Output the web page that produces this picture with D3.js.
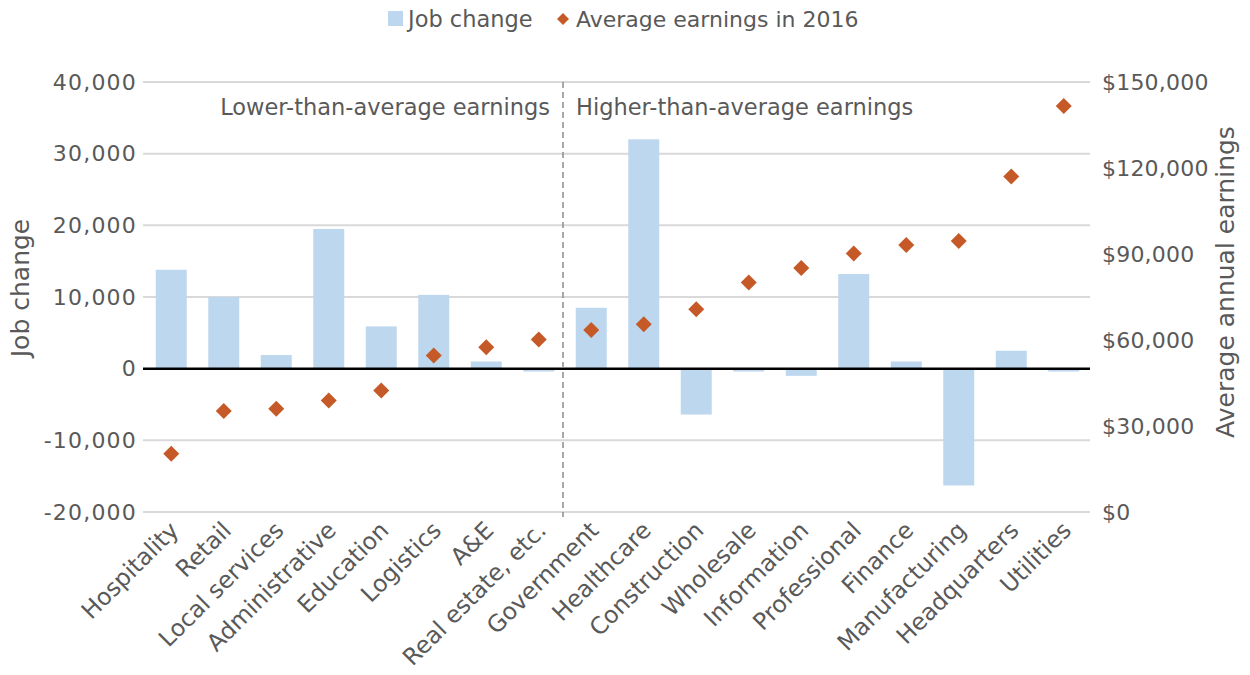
<!DOCTYPE html>
<html>
<head>
<meta charset="utf-8">
<script src="https://cdn.jsdelivr.net/npm/d3@7"></script>
<style>
  html, body { margin: 0; padding: 0; background: #fff; }
  svg { display: block; }
  text { font-family: "DejaVu Sans", sans-serif; fill: #595959; }
</style>
</head>
<body>
<svg id="chart" width="1250" height="675"></svg>
<script>
const categories = ["Hospitality","Retail","Local services","Administrative","Education","Logistics","A&E","Real estate, etc.","Government","Healthcare","Construction","Wholesale","Information","Professional","Finance","Manufacturing","Headquarters","Utilities"];
const jobChange = [13800, 10000, 1900, 19500, 5900, 10300, 1000, -400, 8500, 32000, -6400, -400, -1000, 13200, 1000, -16300, 2500, -400];
const earnings = [20300, 35200, 36000, 38900, 42400, 54600, 57500, 60200, 63500, 65500, 70700, 80100, 85100, 90200, 93100, 94500, 117000, 141600];
const leftTicks = [-20000, -10000, 0, 10000, 20000, 30000, 40000];
const rightTicks = [0, 30000, 60000, 90000, 120000, 150000];
const seriesNames = ["Job change", "Average earnings in 2016"];
const sectionLabels = ["Lower-than-average earnings", "Higher-than-average earnings"];
const dividerAfter = 8;

const svg = d3.select("#chart");
const m = {left: 145, right: 1090, top: 82, bottom: 512};
const fs = 22;

const x = d3.scaleBand().domain(categories).range([m.left, m.right]).paddingInner(0.41).paddingOuter(0.205);
const yL = d3.scaleLinear().domain([-20000, 40000]).range([m.bottom, m.top]);
const yR = d3.scaleLinear().domain([0, 150000]).range([m.bottom, m.top]);

// gridlines
svg.append("g").selectAll("line").data(leftTicks.filter(d => d !== 0)).join("line")
  .attr("x1", m.left - 2).attr("x2", m.right)
  .attr("y1", d => yL(d)).attr("y2", d => yL(d))
  .attr("stroke", "#d9d9d9").attr("stroke-width", 2);

// left axis labels
const axL = d3.axisLeft(yL).tickValues(leftTicks).tickSize(0).tickPadding(8)
  .tickFormat(d => d3.format(",")(d).replace("−", "-"));
const gL = svg.append("g").attr("transform", `translate(${m.left},0)`).call(axL);
gL.select(".domain").remove();
gL.selectAll("text").style("font-size", fs + "px").style("letter-spacing", "1.2px").attr("fill", "#595959")
  .style("font-family", "DejaVu Sans, sans-serif");

// right axis labels
const axR = d3.axisRight(yR).tickValues(rightTicks).tickSize(0).tickPadding(12)
  .tickFormat(d => "$" + d3.format(",")(d));
const gR = svg.append("g").attr("transform", `translate(${m.right},0)`).call(axR);
gR.select(".domain").remove();
gR.selectAll("text").style("font-size", fs + "px").style("letter-spacing", "0.2px").attr("fill", "#595959")
  .style("font-family", "DejaVu Sans, sans-serif");

// bars
svg.append("g").selectAll("rect").data(categories).join("rect")
  .attr("x", d => x(d))
  .attr("width", x.bandwidth())
  .attr("y", (d, i) => yL(Math.max(0, jobChange[i])))
  .attr("height", (d, i) => Math.abs(yL(jobChange[i]) - yL(0)))
  .attr("fill", "#bdd7ee");

// zero line
svg.append("line").attr("x1", m.left - 2).attr("x2", m.right)
  .attr("y1", yL(0)).attr("y2", yL(0)).attr("stroke", "#000").attr("stroke-width", 2.5);

// divider
const divX = m.left + x.step() * dividerAfter - 2;
svg.append("line").attr("x1", divX).attr("x2", divX)
  .attr("y1", m.top).attr("y2", m.bottom + 5)
  .attr("stroke", "#8c8c8c").attr("stroke-width", 1.5).attr("stroke-dasharray", "6,4");

// diamonds
const diamond = (cx, cy, r) => `M${cx},${cy - r}L${cx + r},${cy}L${cx},${cy + r}L${cx - r},${cy}Z`;
svg.append("g").selectAll("path").data(categories).join("path")
  .attr("d", (d, i) => diamond(x(d) + x.bandwidth() / 2, yR(earnings[i]), 8))
  .attr("fill", "#c55a28");

// category labels
svg.append("g").selectAll("text").data(categories).join("text")
  .attr("transform", d => `translate(${x(d) + x.bandwidth() / 2 - 3},${m.bottom + 8}) rotate(-45)`)
  .attr("text-anchor", "end")
  .attr("dy", "0.71em")
  .style("font-size", "23.5px")
  .text(d => d);

// section labels
svg.append("text").attr("x", divX - 13).attr("y", 115).attr("text-anchor", "end")
  .style("font-size", "22.5px").text(sectionLabels[0]);
svg.append("text").attr("x", divX + 13).attr("y", 115).attr("text-anchor", "start")
  .style("font-size", "22.5px").text(sectionLabels[1]);

// axis titles
svg.append("text").attr("transform", `translate(29,288) rotate(-90)`).attr("text-anchor", "middle")
  .style("font-size", "25px").text("Job change");
svg.append("text").attr("transform", `translate(1234,282) rotate(-90)`).attr("text-anchor", "middle")
  .style("font-size", "25px").text("Average annual earnings");

// legend
const lg = svg.append("g");
lg.append("rect").attr("x", 388).attr("y", 11).attr("width", 15).attr("height", 15).attr("fill", "#bdd7ee");
lg.append("text").attr("x", 408).attr("y", 27).style("font-size", "22.5px").text(seriesNames[0]);
lg.append("path").attr("d", diamond(563, 19, 6)).attr("fill", "#c55a28");
lg.append("text").attr("x", 576).attr("y", 27).style("font-size", "22px").text(seriesNames[1]);
</script>
</body>
</html>
